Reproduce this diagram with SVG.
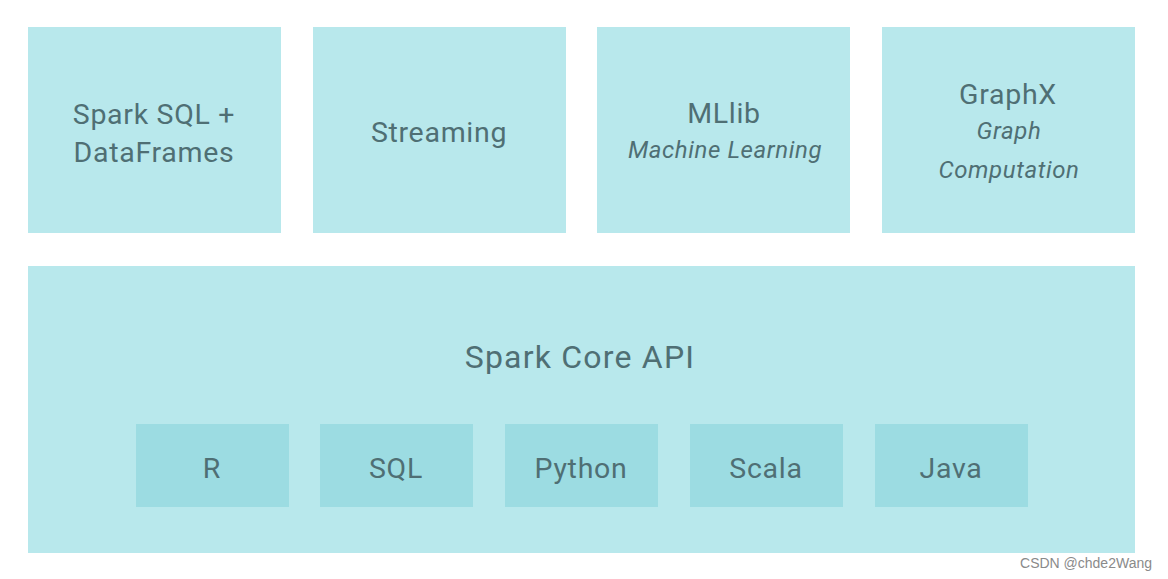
<svg xmlns="http://www.w3.org/2000/svg" width="1168" height="579" viewBox="0 0 1168 579">
<style>
.box{fill:#b8e8ec}
.inner{fill:#9cdce2}
.t{font-family:Roboto,"Noto Sans",sans-serif;fill:#4f6f74;text-anchor:middle;font-size:28.5px;letter-spacing:0.7px}
.i{font-style:italic;font-size:24px;letter-spacing:0.6px}
.wm{font-family:"Liberation Sans",sans-serif;fill:#8a8a8a;font-size:14px;text-anchor:end}
</style>
<rect width="1168" height="579" fill="#ffffff"/>
<g id="sparksql"><rect class="box" x="28" y="27" width="253" height="206"/><text class="t" x="154" y="124">Spark SQL +</text><text class="t" x="154" y="162">DataFrames</text></g>
<g id="streaming"><rect class="box" x="313" y="27" width="253" height="206"/><text class="t" x="439" y="142">Streaming</text></g>
<g id="mllib"><rect class="box" x="597" y="27" width="253" height="206"/><text class="t" x="724" y="123">MLlib</text><text class="t i" x="725" y="158">Machine Learning</text></g>
<g id="graphx"><rect class="box" x="882" y="27" width="253" height="206"/><text class="t" x="1008" y="104">GraphX</text><text class="t i" x="1009" y="139">Graph</text><text class="t i" x="1009" y="178">Computation</text></g>
<g id="core"><rect class="box" x="28" y="266" width="1107" height="287"/><text class="t" x="580" y="368" style="font-size:32px;letter-spacing:1.2px">Spark Core API</text></g>
<g id="r"><rect class="inner" x="136" y="424" width="153" height="83"/><text class="t" x="212" y="478">R</text></g>
<g id="sql"><rect class="inner" x="320" y="424" width="153" height="83"/><text class="t" x="396" y="478">SQL</text></g>
<g id="python"><rect class="inner" x="505" y="424" width="153" height="83"/><text class="t" x="581" y="478">Python</text></g>
<g id="scala"><rect class="inner" x="690" y="424" width="153" height="83"/><text class="t" x="766" y="478">Scala</text></g>
<g id="java"><rect class="inner" x="875" y="424" width="153" height="83"/><text class="t" x="951" y="478">Java</text></g>
<g id="connectors"></g>
<text class="wm" x="1152" y="568">CSDN @chde2Wang</text>
</svg>
